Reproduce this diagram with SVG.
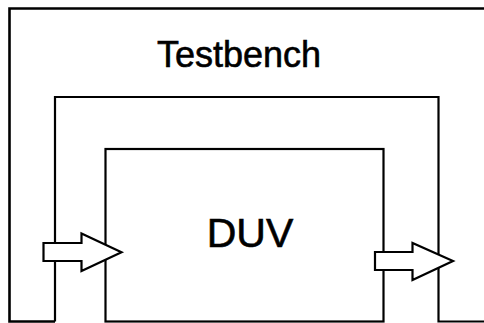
<svg xmlns="http://www.w3.org/2000/svg" width="484" height="323" viewBox="0 0 484 323">
<style>
.ln{fill:none;stroke:#000;stroke-linejoin:miter}
.arr{fill:#fff;stroke:#000;stroke-width:2.2;stroke-linejoin:miter}
.lbl{font-family:"Liberation Sans",Arial,sans-serif;fill:#000;stroke:#000;stroke-width:0.6;text-anchor:middle}
</style>
<rect width="484" height="323" fill="#fff"/>
<g id="testbench">
<path class="ln" stroke-width="2.6" d="M484,8.5 H9.5 V321.5 H55"/>
<path class="ln" stroke-width="2.2" d="M55,321.5 V97 H438.5 V321.5 H484"/>
<text class="lbl" x="239" y="66.5" font-size="36">Testbench</text>
</g>
<g id="duv">
<rect class="ln" stroke-width="2.2" x="105.5" y="149" width="278" height="172.5"/>
<text class="lbl" x="250" y="246.5" font-size="41">DUV</text>
</g>
<g id="connectors">
<path class="arr" d="M43.5,243 H81.5 V233.5 L121.5,252.3 L81.5,271 V261 H43.5 Z"/>
<path class="arr" d="M375,252 H412.5 V243 L453,261 L412.5,280 V270 H375 Z"/>
</g>
</svg>
